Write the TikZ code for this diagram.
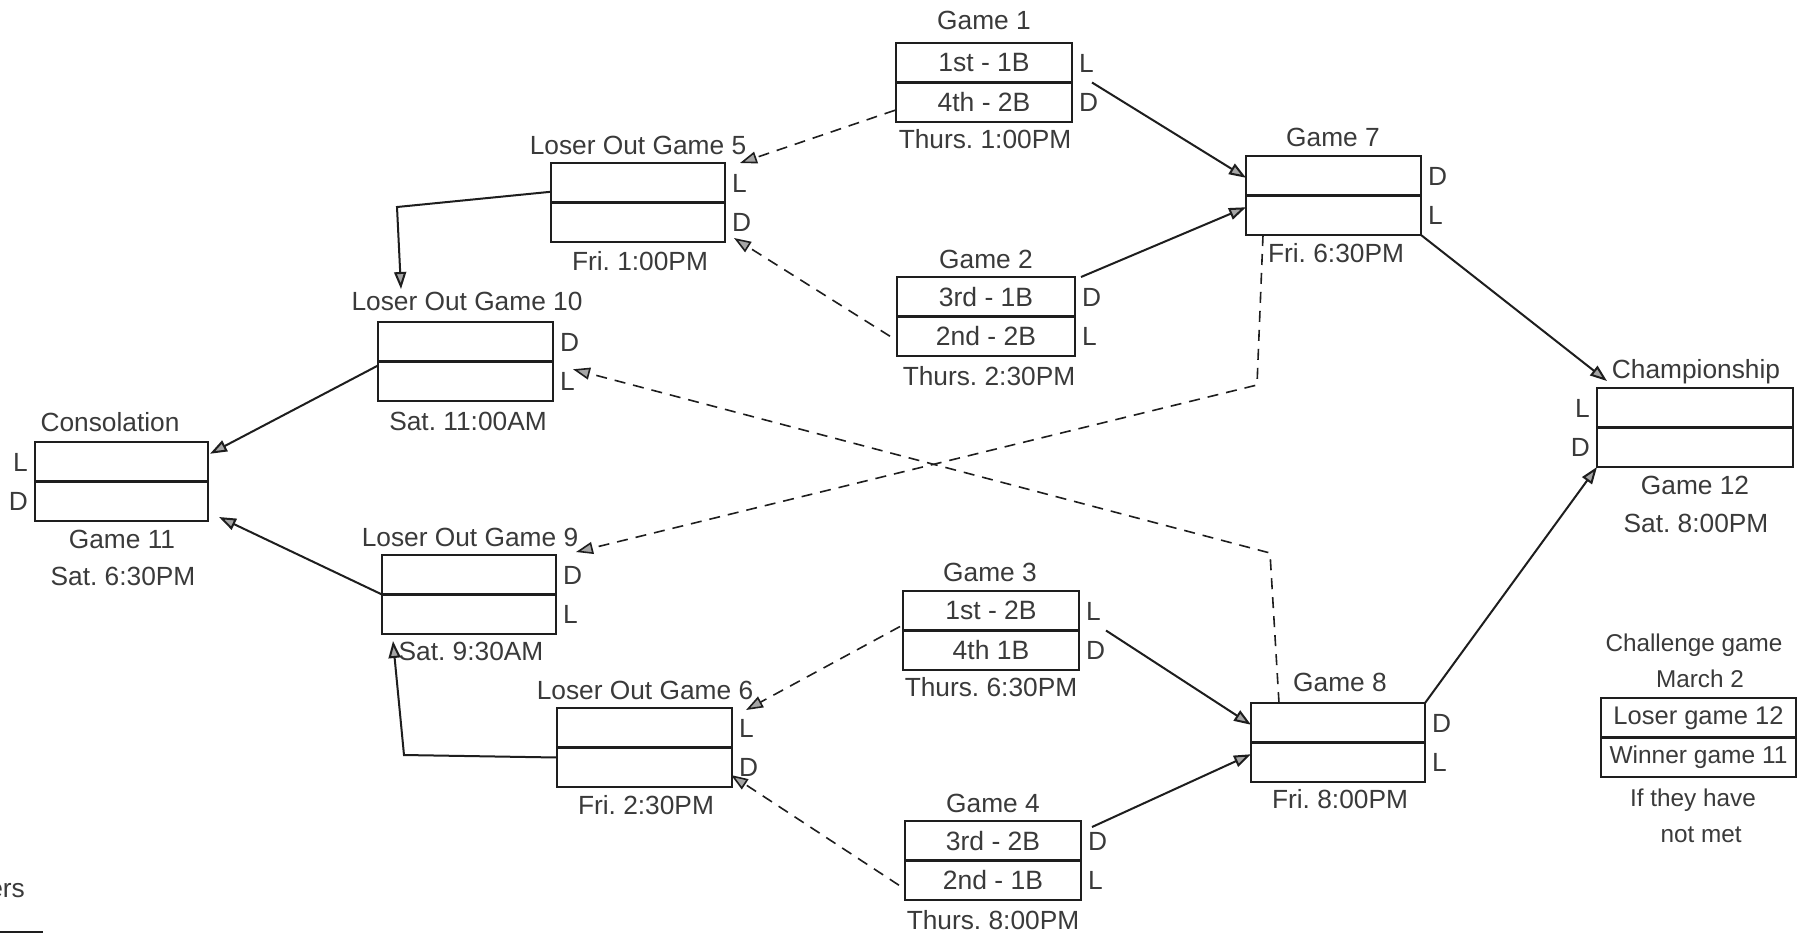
\documentclass[tikz,border=0pt]{standalone}
\usepackage{fontspec}
\setmainfont{Liberation Sans}
\frenchspacing
\usetikzlibrary{arrows.meta}
\definecolor{ink}{HTML}{1E1E1E}
\definecolor{txt}{HTML}{3A3A3A}
\tikzset{
  cell/.style={draw=ink, line width=2.8pt, minimum height=39.5pt, inner sep=0pt, outer sep=0pt,
    font=\fontsize{26.5}{30}\selectfont, text=txt},
  ttl/.style={font=\fontsize{26.3}{30}\selectfont, text=txt, inner sep=0pt,
    text height=18.5pt, text depth=0pt},
  small/.style={ttl, font=\fontsize{24.3}{28}\selectfont},
  labr/.style={ttl, anchor=west},
  labl/.style={ttl, anchor=east},
  win/.style={draw=ink, line width=2pt, -{Triangle[length=17pt,width=12pt,fill=gray!70]}},
  lose/.style={win, line width=1.6pt, dash pattern=on 11pt off 8pt},
}
\newcommand\gamebox[6]{%
  \node[cell, minimum width=#4pt] (#1a) at (#2,#3+19.75) {#5};
  \node[cell, minimum width=#4pt, anchor=north] (#1b) at (#1a.south) {#6};
}
\newcommand\rlabels[3]{%
  \node[labr] (#1la) at ([xshift=7pt]#1a.east) {#2};
  \node[labr] (#1lb) at ([xshift=7pt]#1b.east) {#3};
}
\begin{document}
\begin{tikzpicture}[x=1pt,y=-1pt]
\useasboundingbox[fill=white] (0,0) rectangle (1803,938);

% first round
\gamebox{g1}{984}{43}{176}{1st - 1B}{4th - 2B}
\rlabels{g1}{L}{D}
\node[ttl] (t1) at (984,20) {Game 1};
\node[ttl] (d1) at (985,139) {Thurs. 1:00PM};

\gamebox{g2}{986}{277}{178}{3rd - 1B}{2nd - 2B}
\rlabels{g2}{D}{L}
\node[ttl] (t2) at (986,259) {Game 2};
\node[ttl] (d2) at (989,376) {Thurs. 2:30PM};

\gamebox{g3}{991}{591}{176}{1st - 2B}{4th 1B}
\rlabels{g3}{L}{D}
\node[ttl] (t3) at (990,572) {Game 3};
\node[ttl] (d3) at (991,687) {Thurs. 6:30PM};

\gamebox{g4}{993}{821}{176}{3rd - 2B}{2nd - 1B}
\rlabels{g4}{D}{L}
\node[ttl] (t4) at (993,803) {Game 4};
\node[ttl] (d4) at (993,920) {Thurs. 8:00PM};

% loser out games
\gamebox{g5}{638}{163}{174}{}{}
\rlabels{g5}{L}{D}
\node[ttl] (t5) at (638,145) {Loser Out Game 5};
\node[ttl] (d5) at (640,261) {Fri. 1:00PM};

\gamebox{g6}{644.5}{708}{175}{}{}
\rlabels{g6}{L}{D}
\node[ttl] (t6) at (645,690) {Loser Out Game 6};
\node[ttl] (d6) at (646,805) {Fri. 2:30PM};

% winners second round
\gamebox{g7}{1333.5}{156}{175}{}{}
\rlabels{g7}{D}{L}
\node[ttl] (t7) at (1333,137) {Game 7};
\node[ttl] (d7) at (1336,253) {Fri. 6:30PM};

\gamebox{g8}{1338}{703}{174}{}{}
\rlabels{g8}{D}{L}
\node[ttl] (t8) at (1340,682) {Game 8};
\node[ttl] (d8) at (1340,799) {Fri. 8:00PM};

% Saturday loser out
\gamebox{g9}{469}{555}{174}{}{}
\rlabels{g9}{D}{L}
\node[ttl] (t9) at (470,537) {Loser Out Game 9};
\node[ttl] (d9) at (471,651) {Sat. 9:30AM};

\gamebox{g10}{465.5}{322}{175}{}{}
\rlabels{g10}{D}{L}
\node[ttl] (t10) at (467,301) {Loser Out Game 10};
\node[ttl] (d10) at (468,421) {Sat. 11:00AM};

% consolation
\gamebox{g11}{121.5}{442}{173}{}{}
\node[labl] (g11la) at ([xshift=-7pt]g11a.west) {L};
\node[labl] (g11lb) at ([xshift=-7pt]g11b.west) {D};
\node[ttl] (t11) at (110,422) {Consolation};
\node[ttl] (n11) at (122,539) {Game 11};
\node[ttl] (d11) at (123,576) {Sat. 6:30PM};

% championship
\gamebox{g12}{1695}{388}{196}{}{}
\node[labl] (g12la) at ([xshift=-7pt]g12a.west) {L};
\node[labl] (g12lb) at ([xshift=-7pt]g12b.west) {D};
\node[ttl] (t12) at (1696,369) {Championship};
\node[ttl] (n12) at (1695,485) {Game 12};
\node[ttl] (d12) at (1696,523) {Sat. 8:00PM};

% challenge game
\node[cell, minimum width=195pt, font=\fontsize{25.5}{28}\selectfont] (cha) at (1698.5,717.75) {Loser game 12};
\node[cell, minimum width=195pt, font=\fontsize{24.5}{28}\selectfont, anchor=north] (chb) at (cha.south) {Winner game 11};
\node[small] (ct1) at (1694,642) {Challenge game};
\node[small] (ct2) at (1700,678) {March 2};
\node[small] (ct3) at (1693,797) {If they have};
\node[small] (ct4) at (1701,833) {not met};

% legend fragment
\node[ttl, anchor=east] (leg) at (25,888) {ers};
\draw[ink, line width=2pt] (0,932) -- (43,932);

% bend points
\coordinate (b5) at (397,207);
\coordinate (e10) at (401,289);
\coordinate (b6) at (404,755);
\coordinate (b7) at (1257,385);
\coordinate (b8) at (1270,553);

% winners (solid)
\draw[win] ([xshift=20pt]g1b.north east) -- ([yshift=-2pt]g7a.west);
\draw[win] ([xshift=6pt]g2a.north east) -- ([yshift=8pt]g7b.west);
\draw[win] ([xshift=27pt]g3b.north east) -- ([yshift=-2pt]g8a.west);
\draw[win] ([xshift=11pt,yshift=-6pt]g4a.north east) -- ([yshift=8pt]g8b.west);
\draw[win] (g7b.south east) -- ([xshift=10pt,yshift=7pt]g12a.north west);
\draw[win] (g8a.north east) -- (g12b.south west);
\draw[win] ([yshift=-9pt]g5a.west) -- (b5) -- (e10);
\draw[win] ([yshift=-4pt]g10b.north west) -- ([xshift=2pt,yshift=8pt]g11a.east);
\draw[win] (g9b.north west) -- ([xshift=11pt,yshift=4pt]g11b.south east);
\draw[win] ([yshift=-10pt]g6b.north west) -- (b6) -- ([xshift=11pt,yshift=-7pt]g9b.south west);

% losers (dashed)
\draw[lose] ([xshift=-1pt,yshift=-8pt]g1b.west) -- ([xshift=15pt]g5a.north east);
\draw[lose] ([xshift=-7pt]g2b.west) -- ([xshift=9pt,yshift=4pt]g5b.south east);
\draw[lose] ([xshift=-3pt,yshift=4pt]g3b.north west) -- ([xshift=14pt,yshift=-2pt]g6a.north east);
\draw[lose] ([xshift=-6pt,yshift=-5pt]g4b.west) -- ([xshift=-1pt,yshift=12pt]g6b.south east);
\draw[lose] ([xshift=17pt]g7b.south west) -- (b7) -- ([xshift=20pt,yshift=3pt]g9a.north east);
\draw[lose] ([xshift=28pt]g8a.north west) -- (b8) -- ([xshift=20pt,yshift=12pt]g10b.east);
\end{tikzpicture}
\end{document}
